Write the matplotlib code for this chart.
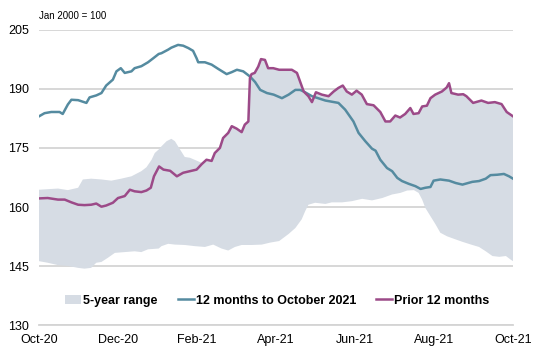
import numpy as np
import matplotlib
matplotlib.use('Agg')
import matplotlib.pyplot as plt
from matplotlib.patches import Patch
from matplotlib.lines import Line2D

plt.rcParams['font.family'] = ['Liberation Sans', 'DejaVu Sans']

# x positions are months since Oct-20
tick_pos = [0, 2, 4, 6, 8, 10, 12]
tick_labels = ['Oct-20', 'Dec-20', 'Feb-21', 'Apr-21', 'Jun-21', 'Aug-21', 'Oct-21']

# 12 months to October 2021
recent_x = [0.00, 0.14, 0.31, 0.52, 0.60, 0.73, 0.82, 0.99, 1.20, 1.28, 1.45, 1.58,
            1.70, 1.87, 1.96, 2.07, 2.17, 2.34, 2.42, 2.59, 2.76, 2.89, 3.03, 3.10,
            3.27, 3.35, 3.52, 3.65, 3.78, 3.90, 3.99, 4.03, 4.20, 4.37, 4.54, 4.75,
            4.88, 5.01, 5.17, 5.34, 5.47, 5.60, 5.77, 5.94, 6.15, 6.32, 6.49, 6.61,
            6.70, 6.91, 7.25, 7.58, 7.75, 7.96, 8.09, 8.26, 8.43, 8.52, 8.64, 8.81,
            8.94, 9.07, 9.19, 9.36, 9.53, 9.66, 9.78, 9.91, 9.99, 10.16, 10.38, 10.55,
            10.72, 10.97, 11.14, 11.31, 11.43, 11.60, 11.77, 11.90, 12.00]
recent_y = [183.0, 183.8, 184.1, 184.1, 183.6, 186.0, 187.2, 187.1, 186.4, 187.8, 188.3, 188.9,
            190.8, 192.3, 194.4, 195.2, 194.0, 194.4, 195.2, 195.7, 196.7, 197.7, 198.8, 199.0,
            199.9, 200.4, 201.1, 200.9, 200.3, 199.6, 197.7, 196.7, 196.7, 196.1, 195.0, 193.7,
            194.2, 194.8, 194.4, 193.1, 191.7, 189.7, 188.9, 188.5, 187.6, 188.5, 189.7, 189.7,
            189.3, 188.1, 187.0, 186.4, 184.7, 181.7, 178.8, 176.7, 174.8, 174.3, 172.0, 169.9,
            169.1, 167.4, 166.6, 165.9, 165.3, 164.6, 164.9, 165.1, 166.7, 167.0, 166.7, 166.1,
            165.7, 166.4, 166.6, 167.2, 168.1, 168.2, 168.4, 167.8, 167.2]

# Prior 12 months
prior_x = [0.00, 0.22, 0.48, 0.65, 0.82, 0.99, 1.15, 1.32, 1.45, 1.58, 1.70, 1.87,
           2.00, 2.17, 2.30, 2.42, 2.59, 2.72, 2.83, 2.91, 3.04, 3.15, 3.32, 3.49,
           3.65, 3.82, 3.99, 4.12, 4.24, 4.37, 4.45, 4.58, 4.66, 4.79, 4.88, 5.00,
           5.13, 5.21, 5.30, 5.34, 5.38, 5.46, 5.55, 5.62, 5.72, 5.80, 5.93, 6.08,
           6.19, 6.40, 6.53, 6.61, 6.70, 6.82, 6.91, 7.01, 7.16, 7.33, 7.46, 7.58,
           7.69, 7.79, 7.92, 8.04, 8.17, 8.30, 8.47, 8.64, 8.77, 8.89, 9.02, 9.14,
           9.27, 9.40, 9.48, 9.61, 9.70, 9.82, 9.91, 10.03, 10.20, 10.32, 10.38, 10.44,
           10.61, 10.74, 10.82, 10.99, 11.20, 11.37, 11.54, 11.71, 11.84, 12.00]
prior_y = [162.2, 162.3, 161.9, 161.9, 161.2, 160.6, 160.5, 160.6, 160.9, 160.1, 160.4, 161.1,
           162.3, 162.8, 164.4, 164.0, 163.8, 164.2, 164.9, 167.8, 170.3, 169.5, 169.2, 167.8,
           168.7, 169.1, 169.5, 170.9, 172.0, 171.7, 173.7, 175.0, 177.5, 178.8, 180.5, 179.9,
           179.0, 180.9, 181.7, 192.7, 193.7, 194.0, 195.6, 197.5, 197.3, 195.2, 195.2, 194.8,
           194.8, 194.8, 194.0, 191.8, 189.3, 188.1, 186.6, 189.1, 188.5, 188.1, 189.3, 190.2,
           190.8, 189.3, 188.5, 189.5, 188.5, 186.1, 185.8, 184.1, 181.7, 181.7, 183.2, 182.7,
           183.6, 185.1, 183.6, 183.8, 185.5, 185.7, 187.6, 188.5, 189.3, 190.3, 191.4, 188.9,
           188.5, 188.6, 188.1, 186.4, 187.0, 186.4, 186.6, 186.1, 184.1, 183.0]

# 5-year range: top edge before Feb-21 (afterwards it follows the prior 12 months)
range_top_x = [0.00, 0.48, 0.73, 0.99, 1.11, 1.32, 1.58, 1.83, 2.08, 2.34, 2.59, 2.72,
               2.85, 2.93, 3.03, 3.10, 3.23, 3.35, 3.44, 3.57, 3.69, 3.82, 4.03, 4.12]
range_top_y = [164.4, 164.7, 164.3, 164.9, 167.0, 167.2, 167.0, 166.7, 167.2, 167.8, 169.1, 170.1,
               172.0, 173.7, 174.6, 175.4, 176.7, 177.3, 176.7, 174.6, 172.7, 172.5, 171.6, 171.2]
range_low_x = [0.00, 0.22, 0.48, 0.73, 0.99, 1.15, 1.32, 1.45, 1.58, 1.75, 1.92, 2.17,
               2.42, 2.59, 2.76, 3.03, 3.10, 3.27, 3.44, 3.69, 3.95, 4.20, 4.41, 4.62,
               4.79, 4.96, 5.13, 5.39, 5.64, 5.85, 6.08, 6.32, 6.49, 6.65, 6.74, 6.82,
               6.99, 7.25, 7.41, 7.67, 7.92, 8.18, 8.43, 8.69, 8.94, 9.15, 9.32, 9.49,
               9.61, 9.70, 9.78, 9.91, 10.04, 10.16, 10.33, 10.55, 10.72, 10.94, 11.14, 11.31,
               11.48, 11.65, 11.82, 11.94, 12.00]
range_low_y = [146.3, 145.9, 145.3, 145.1, 144.6, 144.4, 144.6, 145.9, 146.1, 147.2, 148.4, 148.6,
               148.8, 148.6, 149.3, 149.5, 150.1, 150.7, 150.5, 150.4, 150.1, 149.9, 150.5, 149.5,
               149.0, 149.9, 150.4, 150.4, 150.5, 151.0, 151.4, 153.2, 154.7, 156.9, 159.0, 160.6,
               161.1, 160.8, 161.2, 161.2, 161.5, 162.1, 161.7, 162.3, 163.2, 163.6, 164.2, 164.3,
               163.6, 161.9, 159.8, 157.7, 155.6, 153.5, 152.6, 151.8, 151.2, 150.5, 149.9, 148.8,
               147.6, 147.4, 147.6, 146.7, 146.3]

fill_c = '#d6dce4'
teal = '#558ba0'
purple = '#9c4a88'
grid_c = '#d4d4d4'

fig = plt.figure(figsize=(5.33, 3.48), dpi=100)
ax = fig.add_axes([0.0732, 0.0647, 0.8893, 0.8505])

# top edge = early values, then the prior-12-months line
top_x = range_top_x + [x for x in prior_x if x > 4.2]
top_y = range_top_y + [y for x, y in zip(prior_x, prior_y) if x > 4.2]
poly_x = np.concatenate([top_x, range_low_x[::-1]])
poly_y = np.concatenate([top_y, range_low_y[::-1]])
ax.fill(poly_x, poly_y, color=fill_c, lw=0, zorder=1)

ax.plot(recent_x, recent_y, color=teal, lw=1.8, zorder=3)
ax.plot(prior_x, prior_y, color=purple, lw=1.8, zorder=4)

ax.set_xlim(0, 12)
ax.set_ylim(130, 205)
ax.set_yticks([130, 145, 160, 175, 190, 205])
ax.set_xticks(tick_pos)
ax.set_xticklabels(tick_labels)
ax.tick_params(axis='both', length=0, labelsize=9, colors='#000000')
ax.tick_params(axis='y', pad=7)
ax.tick_params(axis='x', pad=6)
ax.set_axisbelow(True)
ax.grid(axis='y', color=grid_c, lw=1.3)
for s in ['top', 'right', 'left']:
    ax.spines[s].set_visible(False)
ax.spines['bottom'].set_color(grid_c)
ax.spines['bottom'].set_linewidth(1.3)

fig.text(0.074, 0.955, 'Jan 2000 = 100', fontsize=7, ha='left', va='center')

handles = [Patch(facecolor=fill_c, edgecolor='none'),
           Line2D([], [], color=teal, lw=1.8),
           Line2D([], [], color=purple, lw=1.8)]
labels = ['5-year range', '12 months to October 2021', 'Prior 12 months']
ax.legend(handles, labels, loc='center', bbox_to_anchor=(0.503, 0.083), ncol=3,
          frameon=False, prop={'size': 9, 'weight': 'bold'}, handlelength=1.3,
          handleheight=0.8, handletextpad=0.15, columnspacing=1.6)

fig.savefig('out.png', dpi=100)
